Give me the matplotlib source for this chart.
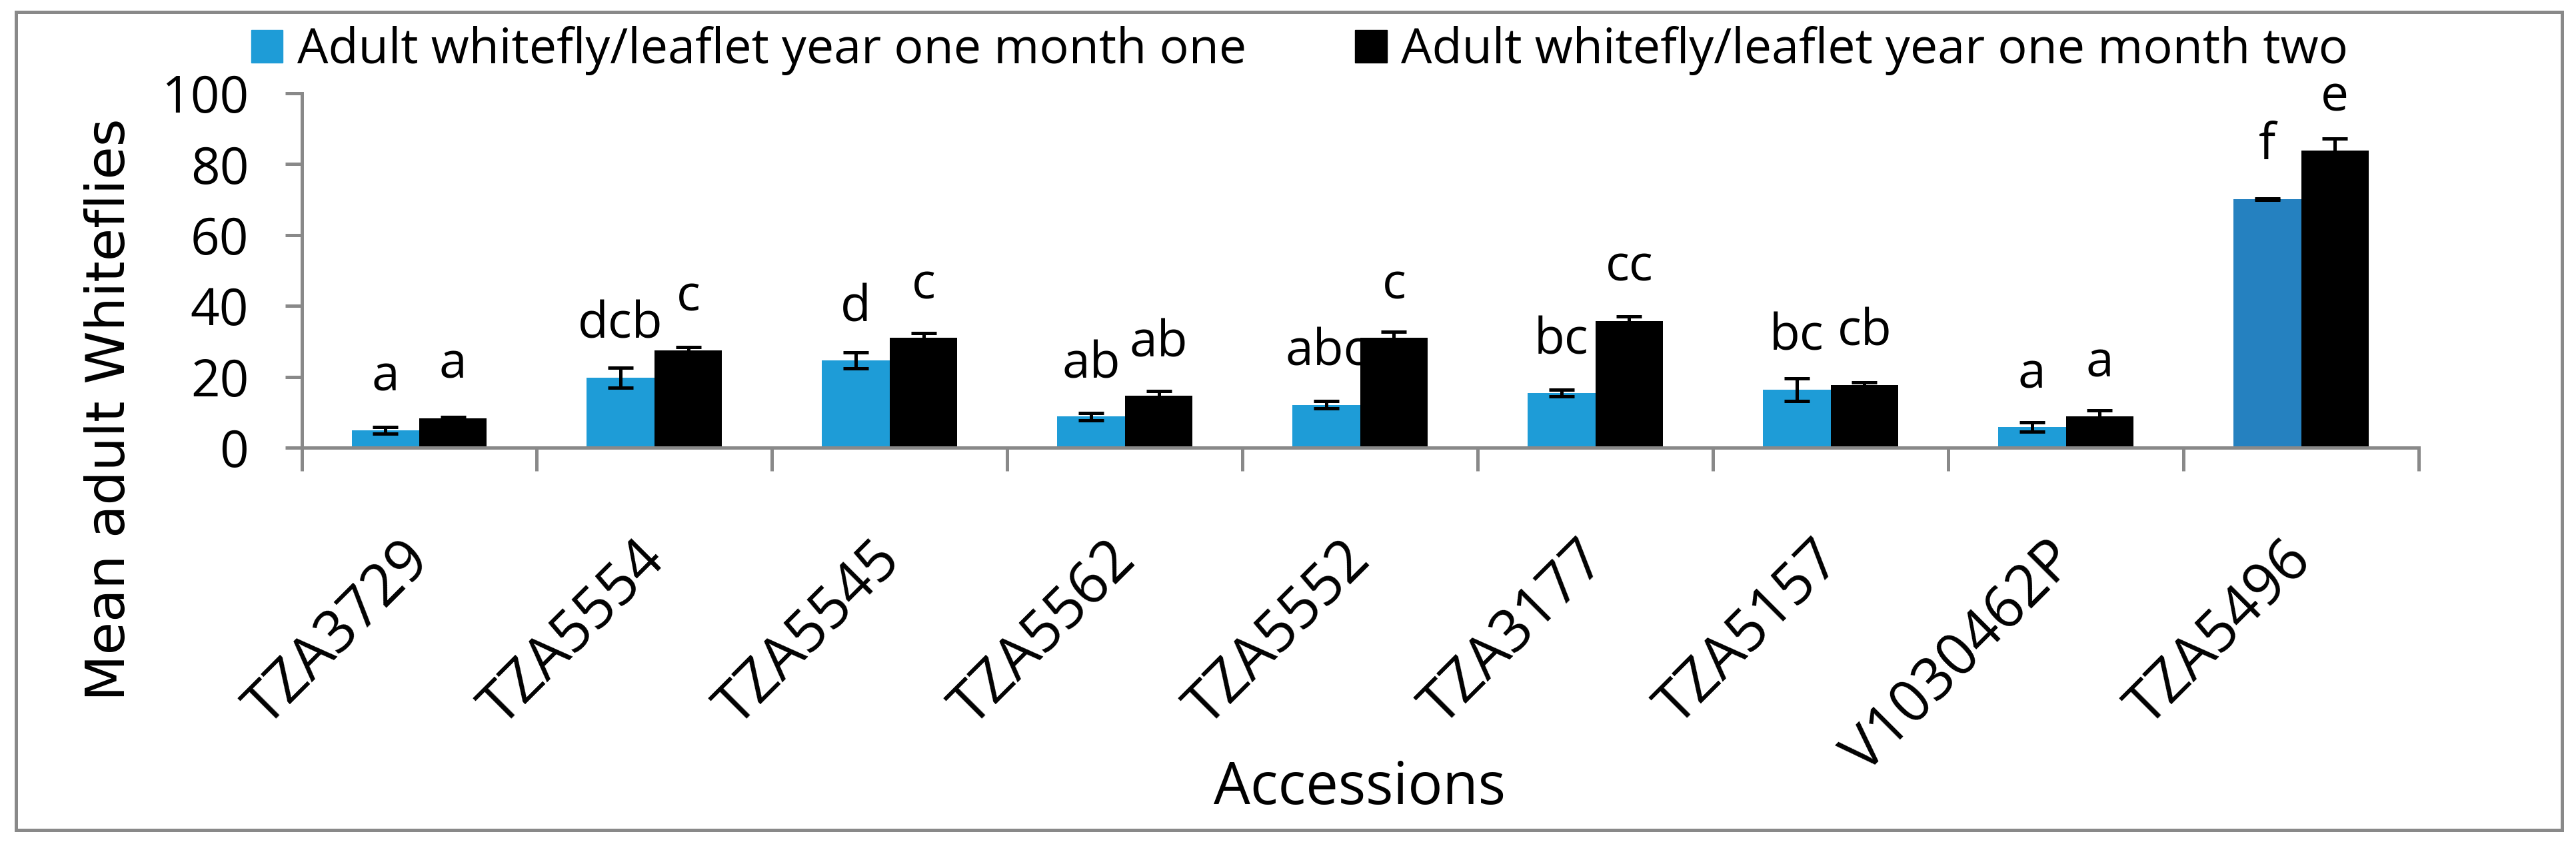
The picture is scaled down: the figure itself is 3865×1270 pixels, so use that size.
import matplotlib
matplotlib.use('Agg')
import matplotlib.pyplot as plt
from matplotlib.patches import Rectangle, Patch
from matplotlib.transforms import ScaledTranslation
import numpy as np

accessions = ['TZA3729', 'TZA5554', 'TZA5545', 'TZA5562', 'TZA5552',
              'TZA3177', 'TZA5157', 'V1030462P', 'TZA5496']
month_one = [4.9, 19.8, 24.6, 8.8, 12.1, 15.4, 16.4, 5.8, 70.1]
month_one_err = [0.9, 2.8, 2.2, 1.0, 1.0, 0.9, 3.2, 1.3, 0.2]
month_two = [8.3, 27.4, 31.0, 14.6, 31.0, 35.8, 17.7, 8.8, 83.8]
month_two_err = [0.4, 1.0, 1.3, 1.3, 1.7, 1.3, 0.8, 1.8, 3.5]
letters_one = ['a', 'dcb', 'd', 'ab', 'abc', 'bc', 'bc', 'a', 'f']
letters_two = ['a', 'c', 'c', 'ab', 'c', 'cc', 'cb', 'a', 'e']
# baseline height of the letters (data units)
letters_one_y = [16.0, 30.9, 35.7, 19.7, 23.2, 26.4, 27.5, 16.9, 81.4]
letters_two_y = [19.7, 38.7, 42.1, 25.7, 42.1, 47.0, 28.8, 20.0, 95.1]
series_names = ['Adult whitefly/leaflet year one month one',
                'Adult whitefly/leaflet year one month two']
yticks = [0, 20, 40, 60, 80, 100]

plt.rcParams['font.family'] = ['Open Sans', 'DejaVu Sans']

W, H = 3865, 1270
fig = plt.figure(figsize=(W / 100, H / 100), dpi=100)
ax = fig.add_axes([452.5 / W, (H - 672) / H, (3629 - 452.5) / W, (672 - 140) / H])

blue = '#1E9CD7'
grey = '#898989'
bw = 0.2875
x = np.arange(len(accessions))
c1 = [blue] * len(accessions)
c1[-1] = '#2581C0'

ax.bar(x - bw / 2, month_one, bw, color=c1, zorder=2)
ax.bar(x + bw / 2, month_two, bw, color='black', zorder=2)
ax.errorbar(x - bw / 2, month_one, yerr=month_one_err, fmt='none', ecolor='black',
            elinewidth=3.6, capsize=14, capthick=3.6, zorder=3)
ax.errorbar(x + bw / 2, month_two, yerr=month_two_err, fmt='none', ecolor='black',
            elinewidth=3.6, capsize=14, capthick=3.6, zorder=3)

for i in range(len(accessions)):
    ax.text(x[i] - bw / 2, letters_one_y[i], letters_one[i], ha='center', va='baseline',
            fontsize=54)
    ax.text(x[i] + bw / 2, letters_two_y[i], letters_two[i], ha='center', va='baseline',
            fontsize=54)

ax.set_xlim(-0.5, len(accessions) - 0.5)
ax.set_ylim(0, 100)
ax.set_yticks(yticks)
ax.tick_params(axis='y', length=18, width=3.6, color=grey, labelsize=55, pad=39)
ax.set_xticks(x)
ax.set_xticks(np.arange(len(accessions) + 1) - 0.5, minor=True)
ax.tick_params(axis='x', which='major', length=0, labelsize=62.5, pad=112)
ax.tick_params(axis='x', which='minor', length=25.2, width=3.6, color=grey)
ax.set_xticklabels(accessions, rotation=45, ha='right', va='center', rotation_mode='anchor')
for lab in ax.get_xticklabels():
    lab.set_transform(lab.get_transform() + ScaledTranslation(2 / 100, 0, fig.dpi_scale_trans))

for s in ['top', 'right']:
    ax.spines[s].set_visible(False)
for s in ['left', 'bottom']:
    ax.spines[s].set_color(grey)
    ax.spines[s].set_linewidth(3.6)

handles = [Patch(color=blue), Patch(color='black')]
fig.legend(handles, series_names, loc='center', bbox_to_anchor=(1950 / W, (H - 76) / H),
           ncol=2, frameon=False, fontsize=53, handlelength=0.645, handleheight=0.645,
           handletextpad=0.29, columnspacing=2.22, borderpad=0, borderaxespad=0)

fig.text(165 / W, (H - 615) / H, 'Mean adult Whiteflies', rotation=90, ha='center',
         va='center', fontsize=58, family='DejaVu Sans')
fig.text(2040 / W, (H - 1207) / H, 'Accessions', ha='center', va='baseline', fontsize=62.5)

fig.patches.append(Rectangle((23.5 / W, (H - 1246) / H), (3844 - 23.5) / W, (1246 - 18) / H,
                             transform=fig.transFigure, fill=False, edgecolor=grey,
                             linewidth=3.6))

fig.savefig('out.png', dpi=100)
